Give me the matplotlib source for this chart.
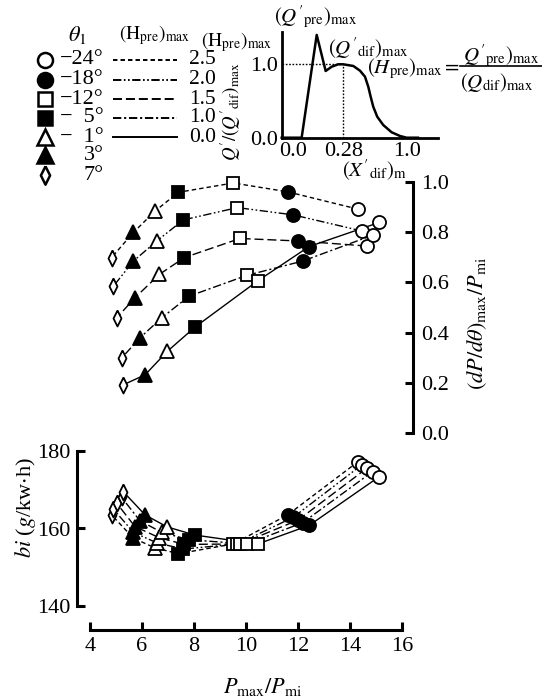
import numpy as np
import matplotlib.pyplot as plt
from matplotlib.path import Path

plt.rcParams['font.family'] = ['Liberation Serif', 'DejaVu Serif']
plt.rcParams['mathtext.fontset'] = 'stix'
plt.rcParams['lines.scale_dashes'] = False

W, H = 542, 700

# ---- data ----
theta = ['−24°', '−18°', '−12°', '−\u20075°', '−\u20071°', '3°', '7°']
h_pre = ['2.5', '2.0', '1.5', '1.0', '0.0']

# Pmax/Pmi for each theta, one list per (Hpre)max
pr_25 = [14.30, 11.60, 9.51, 7.40, 6.50, 5.67, 4.83]
pr_20 = [14.45, 11.82, 9.67, 7.59, 6.57, 5.67, 4.90]
pr_15 = [14.64, 12.01, 9.77, 7.63, 6.67, 5.73, 5.03]
pr_10 = [14.87, 12.18, 10.03, 7.81, 6.76, 5.92, 5.22]
pr_00 = [15.13, 12.43, 10.45, 8.04, 6.97, 6.12, 5.28]

# (dP/dtheta)max / Pmi
dp_25 = [0.892, 0.961, 0.996, 0.959, 0.884, 0.799, 0.699]
dp_20 = [0.805, 0.869, 0.898, 0.849, 0.765, 0.685, 0.585]
dp_15 = [0.745, 0.765, 0.775, 0.699, 0.632, 0.539, 0.459]
dp_10 = [0.788, 0.685, 0.628, 0.545, 0.459, 0.379, 0.299]
dp_00 = [0.839, 0.743, 0.606, 0.422, 0.325, 0.232, 0.192]

# bi (g/kw.h)
bi_25 = [177.2, 163.5, 156.0, 153.5, 155.0, 157.5, 163.5]
bi_20 = [176.4, 162.9, 156.0, 154.7, 156.3, 159.0, 165.0]
bi_15 = [175.5, 162.2, 156.0, 155.9, 157.6, 160.5, 166.5]
bi_10 = [174.7, 161.5, 156.0, 157.1, 159.0, 162.0, 168.0]
bi_00 = [173.4, 160.8, 156.0, 158.3, 160.4, 163.5, 169.5]

# schematic heat release curve of the inset
q_x = [-0.102, 0.074, 0.207, 0.286, 0.339, 0.397, 0.441, 0.530, 0.589, 0.633,
       0.662, 0.683, 0.706, 0.741, 0.794, 0.868, 0.942, 1.0, 1.10]
q_y = [0, 0, 1.40, 0.909, 0.967, 1.0, 1.0, 0.977, 0.913, 0.831,
       0.695, 0.559, 0.422, 0.286, 0.173, 0.074, 0.023, 0, 0]
q_peak_x = 0.441

series = [(pr_25, dp_25, bi_25), (pr_20, dp_20, bi_20), (pr_15, dp_15, bi_15),
          (pr_10, dp_10, bi_10), (pr_00, dp_00, bi_00)]

# ---- styles ----
diamond = Path([(0, 1), (0.5, 0), (0, -1), (-0.5, 0), (0, 1)])
mk = ['o', 'o', 's', 's', '^', '^', diamond]
ms = [9.4, 9.4, 8.6, 8.6, 9.6, 9.6, 11.5]
fc = ['white', 'black', 'white', 'black', 'white', 'black', 'white']
ls = [(0, (3.2, 2.2)), (0, (6, 1.8, 1.2, 1.8, 1.2, 1.8)), (0, (6.5, 2.8)),
      (0, (6, 2, 1.5, 2)), '-']

fs = 16


def box(x0, y0, x1, y1):
    return [x0 / W, 1 - y1 / H, (x1 - x0) / W, (y1 - y0) / H]


def draw(ax, xs, ys, style):
    ax.plot(xs, ys, color='black', lw=1.0, ls=style, zorder=2)
    for k in range(len(xs)):
        ax.plot(xs[k], ys[k], marker=mk[k], ms=ms[k], mfc=fc[k], mec='black',
                mew=1.3, ls='none', zorder=3, clip_on=False)


fig = plt.figure(figsize=(W / 100, H / 100), dpi=100)

# ---- upper chart ----
ax1 = fig.add_axes(box(90, 182, 413, 433))
ax1.set_xlim(4, 4 + 323 / 26)
ax1.set_ylim(0, 1)
for s in ['top', 'bottom', 'left']:
    ax1.spines[s].set_visible(False)
ax1.spines['right'].set_linewidth(2.2)
ax1.set_xticks([])
ax1.yaxis.tick_right()
ax1.set_yticks(np.arange(0, 1.01, 0.2))
ax1.set_yticklabels(['0.0', '0.2', '0.4', '0.6', '0.8', '1.0'])
ax1.tick_params(axis='y', direction='in', length=6, width=2.2, pad=6, labelsize=fs)
ax1.patch.set_alpha(0)
for (px, dp, bi), st in zip(series, ls):
    draw(ax1, px, dp, st)

# ---- lower chart ----
ax2 = fig.add_axes(box(77, 451, 402, 630))
ax2.set_xlim(3.5, 16)
ax2.set_ylim(140 - 24 / 3.875, 180)
ax2.spines['top'].set_visible(False)
ax2.spines['right'].set_visible(False)
ax2.spines['left'].set_bounds(140, 180)
ax2.spines['bottom'].set_bounds(4, 16)
for s in ['left', 'bottom']:
    ax2.spines[s].set_linewidth(2.2)
ax2.set_xticks(range(4, 17, 2))
ax2.set_yticks([140, 160, 180])
ax2.tick_params(direction='in', length=6, width=2.2, labelsize=fs, pad=5)
ax2.patch.set_alpha(0)
for (px, dp, bi), st in zip(series, ls):
    draw(ax2, px, bi, st)

# ---- inset ----
ax3 = fig.add_axes(box(281.7, 31.7, 438.3, 137.7))
ax3.set_xlim(-0.102, 1.28)
ax3.set_ylim(0, 1.444)
ax3.spines['top'].set_visible(False)
ax3.spines['right'].set_visible(False)
ax3.spines['left'].set_linewidth(2)
ax3.spines['bottom'].set_linewidth(2)
ax3.plot(q_x, q_y, color='black', lw=1.8, clip_on=False)
ax3.plot([-0.102, q_peak_x], [1, 1], color='black', lw=1, ls=(0, (1.2, 1.2)))
ax3.plot([q_peak_x, q_peak_x], [0, 1], color='black', lw=1, ls=(0, (1.2, 1.2)))
ax3.set_xticks([0, q_peak_x, 1.0])
ax3.set_xticklabels(['0.0', '0.28', '1.0'])
ax3.set_yticks([0, 1])
ax3.set_yticklabels(['0.0', '1.0'])
ax3.tick_params(length=0, labelsize=fs, pad=3)
ax3.patch.set_alpha(0)

# ---- overlay for legend and labels (pixel coordinates) ----
ov = fig.add_axes([0, 0, 1, 1], zorder=-1)
ov.set_xlim(0, W)
ov.set_ylim(H, 0)
ov.axis('off')

rows = [60, 80, 99, 118, 137, 155, 175]
for k in range(7):
    ov.plot(45, rows[k], marker=mk[k], ms=ms[k] * 1.15, mfc=fc[k], mec='black',
            mew=1.8, ls='none')
    ov.text(104, rows[k], theta[k], fontsize=fs, ha='right', va='center')
for k in range(5):
    ov.plot([113, 177], [rows[k], rows[k]], color='black', lw=1.4, ls=ls[k])
    ov.text(189, rows[k], h_pre[k], fontsize=15.5, ha='left', va='center')

ov.text(77, 35, r'$\theta_1$', fontsize=fs, ha='center', va='center')
ov.text(155, 35, r'$(\mathrm{H}_{\rm pre})_{\rm max}$', fontsize=14, ha='center', va='center')
ov.text(237, 42, r'$(\mathrm{H}_{\rm pre})_{\rm max}$', fontsize=14, ha='center', va='center')

ov.text(231, 112, r"$Q'/(Q'_{\rm dif})_{\rm max}$", fontsize=13.5, rotation=90,
        ha='center', va='center')
ov.text(316, 17, r"$(Q'_{\rm pre})_{\rm max}$", fontsize=15, ha='center', va='center')
ov.text(368, 48, r"$(Q'_{\rm dif})_{\rm max}$", fontsize=15, ha='center', va='center')
ov.text(367, 69, r"$(H_{\rm pre})_{\rm max}=$", fontsize=15, ha='left', va='center')
ov.text(463, 56, r"$Q'_{\rm pre})_{\rm max}$", fontsize=15, ha='left', va='center')
ov.plot([460, 542], [66, 66], color='black', lw=1.2)
ov.text(460, 82, r"$(Q_{\rm dif})_{\rm max}$", fontsize=15, ha='left', va='center')
ov.text(375, 170, r"$(X'_{\rm dif})_{\rm m}$", fontsize=15, ha='center', va='center')

ov.text(477, 323, r'$(dP/d\theta)_{\rm max}/P_{\rm mi}$', fontsize=fs, rotation=90,
        ha='center', va='center')
ov.text(26, 508, r'$bi$ ($g$/kw$\cdot$h)', fontsize=fs, rotation=90,
        ha='center', va='center')
ov.text(263, 687, r'$P_{\rm max}/P_{\rm mi}$', fontsize=fs, ha='center', va='center')

fig.savefig('out.png', dpi=100)
